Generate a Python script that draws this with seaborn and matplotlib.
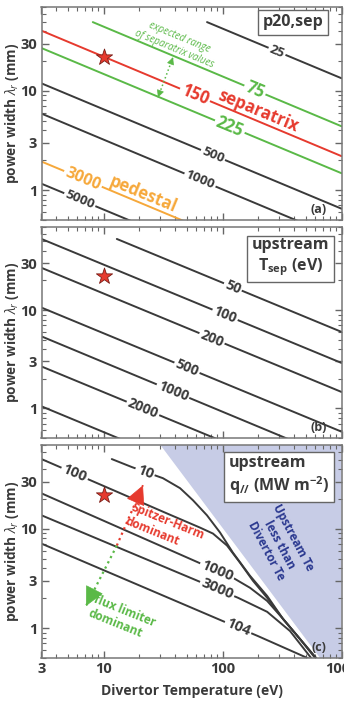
import numpy as np
import pandas as pd
import seaborn as sns
import matplotlib.pyplot as plt
from matplotlib.ticker import FixedLocator, LogLocator, NullFormatter

# axis ranges and the operating point (star)
T_range = [3, 1000]
lam_range = [0.5, 70]
star_T = [10]
star_lam = [22]

# panel (a): p20,sep contours, read at line start and at T = 1000 eV
a_levels = ['25', '75', '150', '225', '500', '1000', '3000', '5000']
a_T0 = [74, 8.1, 3, 3, 3, 3, 3, 3]
a_lam0 = [49.3, 49.3, 40.4, 27.0, 11.9, 5.9, 1.94, 1.16]
a_lam1 = [13.4, 4.4, 2.2, 1.48, 0.65, 0.32, 0.106, 0.064]
a_label_T = [287, 187, 58.6, 115, 83, 64.6, 6.7, 6.3]
a_colors = ['#3a3a3a', '#5ab947', '#e63a2e', '#5ab947', '#3a3a3a', '#3a3a3a', '#f6a83a', '#3a3a3a']
a_sizes = [9.5, 12, 12, 12, 9.5, 9.5, 11.5, 9.5]

# panel (b): upstream Tsep contours
b_levels = ['50', '100', '200', '500', '1000', '2000', '']
b_T0 = [12.9, 3, 3, 3, 3, 3, 3]
b_lam0 = [52.9, 52.9, 26.9, 10.6, 5.4, 2.67, 1.05]
b_lam1 = [6.0, 2.9, 1.47, 0.58, 0.29, 0.146, 0.057]
b_label_T = [122, 105, 81.5, 50.2, 38.3, 21.4, None]

# panel (c): upstream q// contours (curved near the boundary)
c10_T = [11.7, 17.3, 31.5, 43.9, 56.4, 73.9, 95.1, 122, 170, 237, 322, 448, 622]
c10_lam = [50.5, 41.9, 32.4, 25.7, 19.4, 13.7, 9.2, 5.77, 3.37, 2.11, 1.24, 0.776, 0.487]
c100_T = [3, 8.8, 34.1, 64.6, 83, 109, 140, 180, 237, 322, 448, 622]
c100_lam = [50.5, 28.9, 14.3, 10.3, 8.97, 6.79, 4.57, 3.0, 2.02, 1.24, 0.776, 0.487]
c1000_T = [3, 122, 170, 237, 322, 448, 611]
c1000_lam = [22.8, 3.22, 2.55, 1.88, 1.24, 0.776, 0.487]
c3000_T = [3, 135, 237, 369, 565]
c3000_lam = [13.7, 2.02, 1.46, 0.935, 0.487]
c1e4_T = [3, 199, 543]
c1e4_lam = [7.1, 0.83, 0.487]
c_levels = ['10', '100', '1000', '3000', '104']
c_label_T = [22.3, 5.7, 90, 90, 135]

# boundary where upstream Te < divertor Te
bound_T = [30, 660]
bound_lam = [70, 0.5]

black = '#3a3a3a'
red = '#e63a2e'
green = '#5ab947'

sns.set_theme(style='ticks')
plt.rcParams['font.family'] = ['Open Sans', 'DejaVu Sans']
plt.rcParams['mathtext.fontset'] = 'custom'
plt.rcParams['mathtext.rm'] = 'Open Sans'
plt.rcParams['mathtext.it'] = 'Open Sans:italic'
plt.rcParams['mathtext.bf'] = 'Open Sans:bold'

fig = plt.figure(figsize=(3.44, 7.14), dpi=100)
left, width = 41.5 / 344, 300 / 344
boxes = [(7, 220), (227, 438), (445, 658)]
axes = [fig.add_axes([left, 1 - b / 714, width, (b - t) / 714]) for t, b in boxes]


def lam_on(T_line, lam_line, T_at):
    return 10 ** np.interp(np.log10(T_at), np.log10(T_line), np.log10(lam_line))


def put_label(ax, T_line, lam_line, T_at, text, color, size, rot=-22.5):
    ax.text(T_at, lam_on(T_line, lam_line, T_at), text, color=color, fontsize=size,
            fontweight='bold', rotation=rot, rotation_mode='anchor', ha='center', va='center',
            bbox=dict(boxstyle='square,pad=0.12', fc='white', ec='none'), zorder=4)


def head(ax, T_line, lam_line, color, size):
    # arrow head at the end of a dotted line
    t = np.log10(T_line)
    l = np.log10(lam_line)
    back = (10 ** (t[1] - 0.08 * (t[1] - t[0])), 10 ** (l[1] - 0.08 * (l[1] - l[0])))
    ax.annotate('', xy=(T_line[1], lam_line[1]), xytext=back,
                arrowprops=dict(arrowstyle='-|>,head_length=0.9,head_width=0.45', color=color,
                                lw=0.5, shrinkA=0, shrinkB=0, mutation_scale=size), zorder=5)


# ---- panel (a)
ax = axes[0]
for lev, T0, l0, l1, tl, c, s in zip(a_levels, a_T0, a_lam0, a_lam1, a_label_T, a_colors, a_sizes):
    sns.lineplot(x=[T0, 1000], y=[l0, l1], ax=ax, color=c, lw=1.4, estimator=None, sort=False)
    put_label(ax, [T0, 1000], [l0, l1], tl, lev, c, s)
ax.text(199, 6.2, 'separatrix', color=red, fontsize=12, fontweight='bold', rotation=-22.5,
        rotation_mode='anchor', ha='center', va='center')
ax.text(21.4, 0.91, 'pedestal', color='#f6a83a', fontsize=12, fontweight='bold', rotation=-22.5,
        rotation_mode='anchor', ha='center', va='center')
ax.text(41.4, 30.2, 'expected range\nof separatrix values', color=green, fontsize=7,
        style='italic', rotation=-22.5, rotation_mode='anchor', ha='center', va='center')
rng_T = [28.6, 38.3]
rng_lam = [8.6, 21.8]
ax.plot(rng_T, rng_lam, ls=':', color=green, lw=1.1)
head(ax, rng_T, rng_lam, green, 5)
head(ax, rng_T[::-1], rng_lam[::-1], green, 5)
ax.text(0.94, 0.965, 'p20,sep', transform=ax.transAxes, ha='right', va='top', fontsize=11.5,
        fontweight='bold', color=black,
        bbox=dict(boxstyle='square,pad=0.3', fc='white', ec='#666666', lw=1))
ax.text(0.925, 0.05, '(a)', transform=ax.transAxes, ha='center', va='center', fontsize=9,
        fontweight='bold', color=black)

# ---- panel (b)
ax = axes[1]
for lev, T0, l0, l1, tl in zip(b_levels, b_T0, b_lam0, b_lam1, b_label_T):
    sns.lineplot(x=[T0, 1000], y=[l0, l1], ax=ax, color=black, lw=1.4, estimator=None, sort=False)
    if tl is not None:
        put_label(ax, [T0, 1000], [l0, l1], tl, lev, black, 10)
ax.text(0.96, 0.953, 'upstream\n$\\mathbf{T_{sep}}$ (eV)', transform=ax.transAxes, ha='right',
        va='top', fontsize=11.5, fontweight='bold', color=black, multialignment='center',
        bbox=dict(boxstyle='square,pad=0.3', fc='white', ec='#666666', lw=1))
ax.text(0.925, 0.05, '(b)', transform=ax.transAxes, ha='center', va='center', fontsize=9,
        fontweight='bold', color=black)

# ---- panel (c)
ax = axes[2]
shade = pd.DataFrame({'T': bound_T + [T_range[1], T_range[1]],
                      'lam': bound_lam + [lam_range[0], lam_range[1]]})
ax.fill(shade['T'], shade['lam'], color='#c7cce6', lw=0, zorder=0)
c_curves = [(c10_T, c10_lam), (c100_T, c100_lam), (c1000_T, c1000_lam),
            (c3000_T, c3000_lam), (c1e4_T, c1e4_lam)]
for (cT, cl), lev, tl in zip(c_curves, c_levels, c_label_T):
    sns.lineplot(x=cT, y=cl, ax=ax, color=black, lw=1.4, estimator=None, sort=False)
    put_label(ax, cT, cl, tl, lev, black, 10.5, rot=-21 if lev == '10' else -23)
sh_T = [12.9, 21.4]
sh_lam = [6.79, 27.5]
fl_T = [12.9, 7.1]
fl_lam = [6.79, 1.67]
ax.plot(sh_T, sh_lam, ls=':', color=red, lw=1.6)
ax.plot(fl_T, fl_lam, ls=':', color=green, lw=1.6)
head(ax, sh_T, sh_lam, red, 14)
head(ax, fl_T, fl_lam, green, 14)
ax.text(32.8, 10.1, 'Spitzer-Harm\ndominant', color=red, fontsize=8.5, fontweight='bold',
        rotation=-22, rotation_mode='anchor', ha='center', va='center', multialignment='left')
ax.text(14.3, 1.26, 'flux limiter\ndominant', color=green, fontsize=8.5, fontweight='bold',
        rotation=-22, rotation_mode='anchor', ha='center', va='center', multialignment='left')
ax.text(300, 7.0, 'Upstream Te\nless than\nDivertor Te', color='#2b3990', fontsize=8.5,
        fontweight='bold', rotation=-62, rotation_mode='anchor', ha='center', va='center',
        multialignment='center')
ax.text(0.96, 0.953, 'upstream\n$\\mathbf{q_{//}}$ (MW m$\\mathbf{^{-2}}$)', transform=ax.transAxes,
        ha='right', va='top', fontsize=11.5, fontweight='bold', color=black,
        multialignment='left',
        bbox=dict(boxstyle='square,pad=0.3', fc='white', ec='#666666', lw=1), zorder=6)
ax.text(0.925, 0.05, '(c)', transform=ax.transAxes, ha='center', va='center', fontsize=9,
        fontweight='bold', color=black)
ax.set_xlabel('Divertor Temperature (eV)', fontsize=10, fontweight='bold', color=black, labelpad=6)

# ---- shared axes styling
for i, ax in enumerate(axes):
    sns.scatterplot(x=star_T, y=star_lam, ax=ax, marker='*', s=150, color=red,
                    edgecolor='#7a1d16', linewidth=0.6, zorder=6)
    ax.set_xscale('log')
    ax.set_yscale('log')
    ax.set_xlim(T_range)
    ax.set_ylim(lam_range)
    ax.yaxis.set_major_locator(FixedLocator([1, 3, 10, 30]))
    ax.set_yticklabels(['1', '3', '10', '30'])
    ax.yaxis.set_minor_locator(LogLocator(subs=np.arange(2, 10)))
    ax.yaxis.set_minor_formatter(NullFormatter())
    ax.xaxis.set_major_locator(FixedLocator([3, 10, 100, 1000]))
    ax.xaxis.set_minor_locator(LogLocator(subs=np.arange(2, 10)))
    ax.xaxis.set_minor_formatter(NullFormatter())
    if i < 2:
        ax.set_xticklabels([])
    else:
        ax.set_xticklabels(['3', '10', '100', '1000'])
    ax.tick_params(which='both', direction='in', top=True, right=True, color='#666666',
                   labelsize=10.5, labelcolor=black, pad=3)
    ax.tick_params(which='major', length=5, width=1)
    ax.tick_params(which='minor', length=3, width=0.8)
    for lab in ax.get_xticklabels() + ax.get_yticklabels():
        lab.set_fontweight('bold')
    for sp in ax.spines.values():
        sp.set_color('#777777')
        sp.set_linewidth(1.1)
    ax.set_ylabel('power width $\\lambda_{r}$ (mm)', fontsize=9.8, fontweight='bold',
                  color=black)
    ax.yaxis.set_label_coords(-0.068, 0.5)

fig.savefig('out.png', dpi=100)
